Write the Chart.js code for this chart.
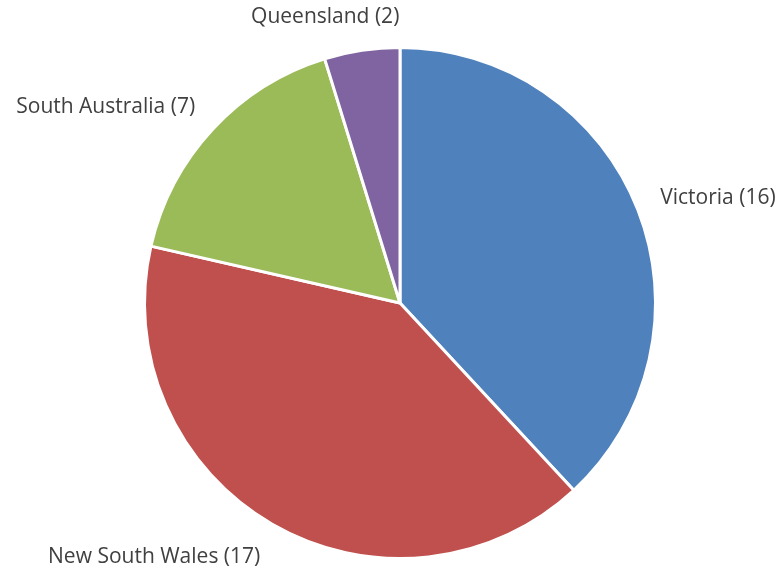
<!DOCTYPE html>
<html>
<head>
<meta charset="utf-8">
<script src="https://cdn.jsdelivr.net/npm/chart.js@4.4.1/dist/chart.umd.min.js"></script>
<style>
  html, body { margin: 0; padding: 0; background: #fff; }
  #wrap { width: 783px; height: 570px; }
</style>
</head>
<body>
<div id="wrap"><canvas id="pieChart"></canvas></div>
<script>
const states = ["Victoria", "New South Wales", "South Australia", "Queensland"];
const counts = [16, 17, 7, 2];
const sliceColors = ["#4F81BD", "#C0504D", "#9BBB59", "#8064A2"];

// outside-end labels, placed from each arc's own geometry
const outsideLabels = {
    id: "outsideLabels",
    afterDatasetsDraw(chart) {
        const ctx = chart.ctx;
        const meta = chart.getDatasetMeta(0);
        ctx.save();
        ctx.font = "21px 'Open Sans', sans-serif";
        ctx.fillStyle = "#404040";
        ctx.textBaseline = "middle";
        meta.data.forEach(function (arc, i) {
            const p = arc.getProps(["x", "y", "startAngle", "endAngle", "outerRadius"], true);
            const mid = (p.startAngle + p.endAngle) / 2;
            const r = p.outerRadius + 24;
            const ax = p.x + Math.cos(mid) * r;
            const ay = p.y + Math.sin(mid) * r;
            const text = states[i] + " (" + counts[i] + ")";
            const w = ctx.measureText(text).width;
            const h = 24;
            const t = Math.min(1, Math.max(0, (1 - 3 * Math.cos(mid)) / 2));
            const left = ax - w * t;
            const cy = ay + h * Math.sin(mid) / 2 + 2;
            ctx.fillText(text, left, cy);
        });
        ctx.restore();
    }
};

new Chart(document.getElementById("pieChart"), {
    type: "pie",
    data: {
        labels: states,
        datasets: [{
            data: counts,
            backgroundColor: sliceColors,
            borderColor: "#ffffff",
            borderWidth: 3
        }]
    },
    options: {
        responsive: true,
        maintainAspectRatio: false,
        animation: false,
        layout: { padding: { left: 143, right: 126, top: 46, bottom: 10 } },
        plugins: {
            legend: { display: false },
            tooltip: { enabled: false }
        }
    },
    plugins: [outsideLabels]
});
</script>
</body>
</html>
